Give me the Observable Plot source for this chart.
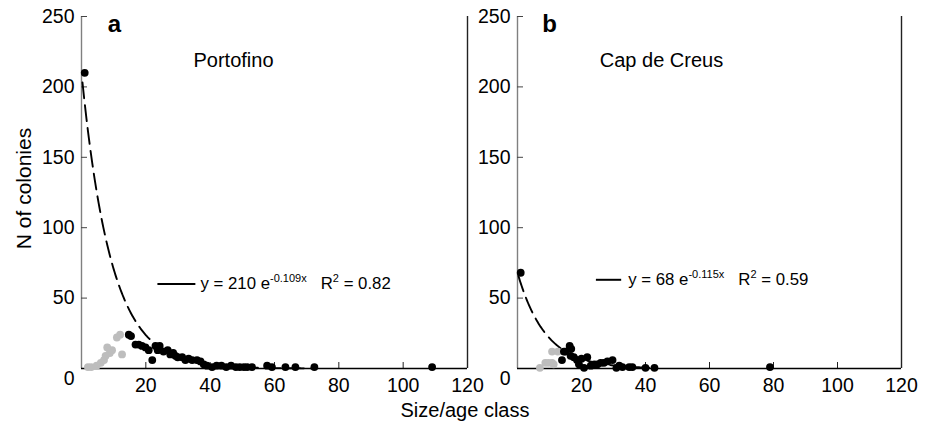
<!DOCTYPE html>
<html>
<head>
<meta charset="utf-8">
<script src="https://cdn.jsdelivr.net/npm/d3@7"></script>
<script src="https://cdn.jsdelivr.net/npm/@observablehq/plot@0.6"></script>
<style>
  body { margin: 0; background: #fff; font-family: "Liberation Sans", Arial, Helvetica, sans-serif; }
  #wrap { position: relative; width: 930px; height: 429px; overflow: hidden; background: #fff; }
  #wrap .panel { position: absolute; top: 0; }
  #xlabel { position: absolute; left: 0; width: 930px; top: 399px; text-align: center; font-size: 20px; color: #000; line-height: 22px; }
</style>
</head>
<body>
<div id="wrap">
  <div id="pa" class="panel" style="left:0px"></div>
  <div id="pb" class="panel" style="left:450px"></div>
  <div id="xlabel">Size/age class</div>
</div>
<script>
// ---------------- data ----------------
const xTickValues = [20, 40, 60, 80, 100, 120];
const yTickValues = [50, 100, 150, 200, 250];
const yZeroTick = [0];

const siteNames = ["Portofino", "Cap de Creus"];
const panelLetters = ["a", "b"];
const yAxisTitle = "N of colonies";

// Portofino (panel a)
const portofinoBlackX = [1, 14.7, 15.4, 16.8, 17.8, 18.8, 19.9, 20.9, 22, 23, 23.7, 24.3, 25.5, 26.8, 27.6, 28.5, 29.2, 29.9, 31.3, 32.3, 33.3, 34.4, 35.9, 37, 38, 39, 40.6, 42, 43.5, 45, 46.5, 48, 49.2, 50.5, 51.5, 53, 57.7, 59.2, 63.4, 66.5, 72.4, 109];
const portofinoBlackY = [210, 24, 23, 17, 17, 16, 15, 13, 6, 16, 13, 16, 12, 13, 10, 11, 9, 8, 8, 6, 7, 6, 6, 5, 3, 2, 1, 2, 2, 1, 2, 1, 1, 1, 1, 1, 2, 1, 1, 1, 1, 1];
const portofinoGreyX = [2, 3, 4.7, 6, 7, 7.5, 8, 8.8, 9.5, 11, 12, 12.6];
const portofinoGreyY = [1, 1, 2, 4, 6, 9, 15, 11, 13, 22, 24, 10];

// Cap de Creus (panel b)
const creusBlackX = [1, 13.9, 14.5, 15, 16.3, 16.8, 16.6, 17.6, 18.6, 19.2, 20, 20.8, 21.8, 22.9, 24, 25, 26, 27, 28.1, 29.7, 30.9, 31.8, 32.8, 34.9, 35.9, 40, 42.8, 78.9];
const creusBlackY = [68, 6, 12, 12, 16, 14, 9, 8, 6, 3, 7, 0.5, 8, 2, 3, 3, 4, 4, 5, 6, 0.5, 2, 1, 1, 1, 0.5, 0.5, 1];
const creusGreyX = [7, 8.7, 9.7, 10.8, 11.3, 10.8, 12.6];
const creusGreyY = [0.5, 4, 4, 4, 3, 12, 12];

// exponential fits printed on the chart
const fitCoef = [210, 68];
const fitRate = [-0.109, -0.115];
const fitR2 = ["0.82", "0.59"];
const fitEnd = [73, 43];

// ---------------- drawing ----------------
const FONT = '"Liberation Sans", Arial, Helvetica, sans-serif';

const panels = [
  { el: "#pa", width: 480, ml: 81, mr: 13, bx: portofinoBlackX, by: portofinoBlackY, gx: portofinoGreyX, gy: portofinoGreyY,
    leg: { x1: 23.6, x2: 35.4, y: 60, tx: 37 }, letterDx: 33, nameDx: 152, yTitle: true },
  { el: "#pb", width: 480, ml: 67, mr: 29, bx: creusBlackX, by: creusBlackY, gx: creusGreyX, gy: creusGreyY,
    leg: { x1: 24.5, x2: 32.4, y: 63, tx: 34.6 }, letterDx: 32, nameDx: 144, yTitle: false }
];

panels.forEach((p, i) => {
  const black = p.bx.map((x, j) => ({ x, y: p.by[j] }));
  const grey = p.gx.map((x, j) => ({ x, y: p.gy[j] }));
  const fit = d3.range(0.3, fitEnd[i] + 0.001, 0.25).map(x => ({ x, y: fitCoef[i] * Math.exp(fitRate[i] * x) }));
  const eq = `y = ${fitCoef[i]} e${fitRate[i]}x R2 = ${fitR2[i]}`;

  const marks = [
    Plot.ruleX([0], { y1: 0, y2: 250, stroke: "#808080", strokeWidth: 1.4 }),
    Plot.ruleX([120], { y1: 0, y2: 250, stroke: "#222", strokeWidth: 1.4 }),
    Plot.axisY({ ticks: yTickValues, tickSize: 6, dx: 6, tickPadding: 7, tickFormat: d => d, label: null, stroke: "#444" }),
    Plot.axisY({ ticks: yZeroTick, tickSize: 0, dy: 10, tickPadding: 7, tickFormat: d => d, label: null }),
    Plot.axisX({ ticks: xTickValues, tickSize: 6, dy: -6, tickPadding: 10, tickFormat: d => d, label: null, stroke: "#222" }),
    Plot.ruleY([0], { stroke: "#000", strokeWidth: 1.5 }),
    Plot.line(fit, { x: "x", y: "y", stroke: "#000", strokeWidth: 1.9, strokeDasharray: "16,7" }),
    Plot.dot(grey, { x: "x", y: "y", r: 3.9, fill: "#bdbdbd", stroke: "none" }),
    Plot.dot(black, { x: "x", y: "y", r: 3.9, fill: "#000", stroke: "none" }),
    Plot.link([eq], { x1: () => p.leg.x1, x2: () => p.leg.x2, y1: () => p.leg.y, y2: () => p.leg.y, stroke: "#000", strokeWidth: 2 }),
    Plot.text([eq], { x: () => p.leg.tx, y: () => p.leg.y, text: d => d, textAnchor: "start", fontSize: 16.8, fill: "#000" }),
    Plot.text([panelLetters[i]], { frameAnchor: "top-left", dx: p.letterDx, dy: 8, text: d => d, textAnchor: "middle", fontSize: 24, fontWeight: "bold", lineAnchor: "middle", fill: "#000" }),
    Plot.text([siteNames[i]], { frameAnchor: "top-left", dx: p.nameDx, dy: 44, text: d => d, textAnchor: "middle", fontSize: 20, lineAnchor: "middle", fill: "#000" })
  ];
  if (p.yTitle) {
    marks.push(Plot.text([yAxisTitle], { frameAnchor: "left", dx: -57, dy: -4, rotate: -90, text: d => d, textAnchor: "middle", lineAnchor: "middle", fontSize: 21, fill: "#000" }));
  }

  const chart = Plot.plot({
    width: p.width, height: 429,
    marginLeft: p.ml, marginRight: p.mr, marginTop: 16, marginBottom: 61,
    style: { background: "transparent", overflow: "visible", fontFamily: FONT, fontSize: "19.5px", color: "#000" },
    x: { domain: [0, 120], label: null },
    y: { domain: [0, 250], label: null },
    marks
  });

  // typeset the fit equation with superscripts
  chart.querySelectorAll("text").forEach(t => {
    const m = t.textContent.match(/^y = (\S+) e(\S+) R2 = (\S+)$/);
    if (!m) return;
    const ns = "http://www.w3.org/2000/svg";
    t.textContent = "";
    const add = (s, o = {}) => {
      const ts = document.createElementNS(ns, "tspan");
      ts.textContent = s;
      if (o.dy) ts.setAttribute("dy", o.dy);
      if (o.dx) ts.setAttribute("dx", o.dx);
      if (o.size) ts.setAttribute("font-size", o.size);
      t.appendChild(ts);
    };
    add(`y = ${m[1]} e`);
    add(m[2], { dy: -7, size: 11 });
    add("R", { dy: 7, dx: 14 });
    add("2", { dy: -7, size: 11 });
    add(` = ${m[3]}`, { dy: 7 });
  });

  document.querySelector(p.el).appendChild(chart);
});
</script>
</body>
</html>
